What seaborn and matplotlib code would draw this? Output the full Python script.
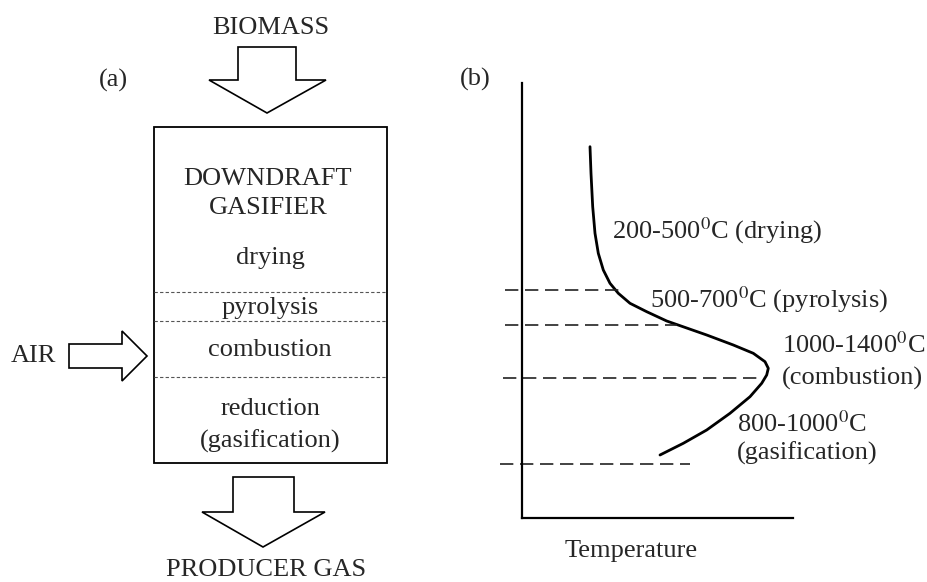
import numpy as np
import pandas as pd
import seaborn as sns
import matplotlib.pyplot as plt
from matplotlib.patches import Polygon, Rectangle

sns.set_theme(style="white")
plt.rcParams['font.family'] = ['Liberation Serif', 'DejaVu Serif']
plt.rcParams['mathtext.fontset'] = 'stix'

# ---- panel (a): downdraft gasifier sketch (pixel units, y down) ----
box = (154, 127, 387, 463)  # left, top, right, bottom
zone_lines_a = [292, 321, 377]
zone_labels_a = ["drying", "pyrolysis", "combustion", "reduction", "(gasification)"]
zone_label_y = [264, 314, 356, 415, 448]
title_lines = ["DOWNDRAFT", "GASIFIER"]
title_y = [185, 214]

# ---- panel (b): temperature profile (x: temperature offset, y: height) ----
temp = [68, 69, 70.7, 73, 76.3, 81.3, 88, 96.3, 108, 124.7, 144.7,
        184.7, 211.3, 231.3, 243, 246.3, 244.7, 239.7, 228, 208, 184.7, 161.3, 138]
height = [371.3, 344.7, 311.3, 284.7, 264.7, 248, 234.7, 224.7, 214.7, 206.3, 197,
          183, 173, 164.7, 156.3, 149.7, 143, 134.7, 121.3, 104.7, 88, 74.7, 63]
zone_h = [228, 193, 140, 54]
zone_x0 = [-17, -17, -19, -22]
zone_x1 = [100, 155, 235, 168]
zone_text = ["200-500$^{0}$C (drying)", "500-700$^{0}$C (pyrolysis)",
             "1000-1400$^{0}$C", "(combustion)", "800-1000$^{0}$C", "(gasification)"]
zone_text_x = [90, 128, 260, 260, 215, 215]
zone_text_h = [280, 211, 165, 133, 86, 58]

fs = 19
fig = plt.figure(figsize=(9.27, 5.82), dpi=100)

ax = fig.add_axes([0, 0, 1, 1])
ax.set_xlim(0, 927)
ax.set_ylim(582, 0)
ax.axis('off')

ax.add_patch(Rectangle((box[0], box[1]), box[2] - box[0], box[3] - box[1],
                       fill=False, ec='black', lw=1.3))
for y in zone_lines_a:
    ax.plot([box[0], box[2]], [y, y], color='#555555', lw=0.8, ls=(0, (3, 2)))

def block_arrow(shaft_x, shaft_y, head_x, tip, horizontal=False):
    if not horizontal:
        pts = [(shaft_x[0], shaft_y[0]), (shaft_x[1], shaft_y[0]), (shaft_x[1], shaft_y[1]),
               (head_x[1], shaft_y[1]), tip, (head_x[0], shaft_y[1]), (shaft_x[0], shaft_y[1])]
    else:
        pts = [(shaft_x[0], shaft_y[0]), (shaft_x[1], shaft_y[0]), (shaft_x[1], head_x[0]),
               tip, (shaft_x[1], head_x[1]), (shaft_x[1], shaft_y[1]), (shaft_x[0], shaft_y[1])]
    ax.add_patch(Polygon(pts, closed=True, fill=False, ec='black', lw=1.2))

block_arrow((238, 296), (47, 80), (209, 326), (267, 113))
block_arrow((233, 294), (477, 512), (202, 325), (263, 547))
block_arrow((69, 122), (344, 368), (331, 381), (147, 356), horizontal=True)

ax.text(271, 34, "BIOMASS", ha='center', va='baseline', fontsize=fs)
ax.text(266, 576, "PRODUCER GAS", ha='center', va='baseline', fontsize=fs)
ax.text(11, 362, "AIR", ha='left', va='baseline', fontsize=fs)
ax.text(99, 87, "(a)", ha='left', va='baseline', fontsize=fs)
for t, y in zip(title_lines, title_y):
    ax.text(268, y, t, ha='center', va='baseline', fontsize=fs)
for t, y in zip(zone_labels_a, zone_label_y):
    ax.text(270, y, t, ha='center', va='baseline', fontsize=fs)

# panel (b)
axb = fig.add_axes([482 / 927, 54 / 582, 340 / 927, 455 / 582])
axb.patch.set_alpha(0)
prof = pd.DataFrame({"temp": temp, "height": height})
sns.lineplot(data=prof, x="temp", y="height", sort=False, estimator=None,
             color='black', lw=2, ax=axb)
axb.hlines(zone_h, zone_x0, zone_x1, colors='#222222', lw=1.2, linestyles=(0, (8, 4)))
axb.set_xlim(-40, 300)
axb.set_ylim(-10, 445)
for s in ['top', 'right']:
    axb.spines[s].set_visible(False)
for s in ['left', 'bottom']:
    axb.spines[s].set_position(('data', 0))
    axb.spines[s].set_color('black')
    axb.spines[s].set_linewidth(1.6)
axb.spines['left'].set_bounds(0, 435)
axb.spines['bottom'].set_bounds(0, 271)
axb.set_xticks([])
axb.set_yticks([])
axb.set_xlabel("")
axb.set_ylabel("")
for t, x, y in zip(zone_text, zone_text_x, zone_text_h):
    axb.text(x, y, t, ha='left', va='baseline', fontsize=fs)
axb.text(-62, 432, "(b)", ha='left', va='baseline', fontsize=fs)
axb.text(109, -39, "Temperature", ha='center', va='baseline', fontsize=fs)

fig.savefig("out.png", dpi=100)
